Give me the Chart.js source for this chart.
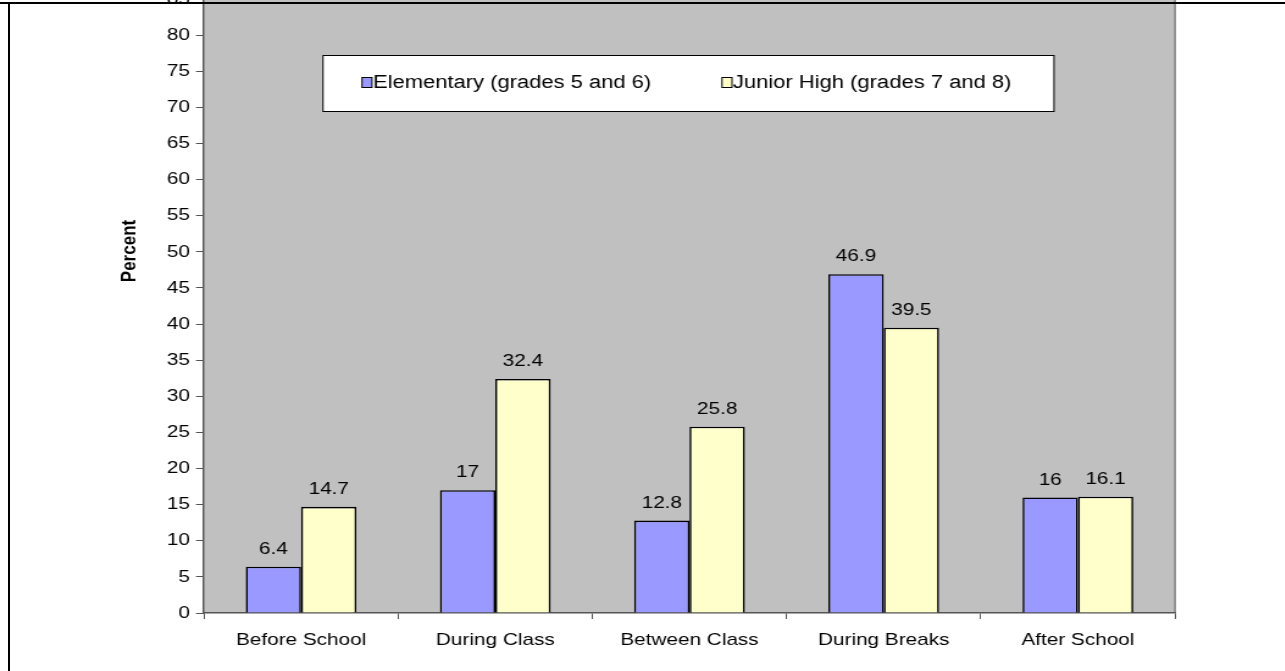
<!DOCTYPE html>
<html lang="en">
<head>
  <meta charset="UTF-8">
  <title>Percent by Time of Day</title>
  <script src="https://cdn.jsdelivr.net/npm/chart.js"></script>
  <style>
    body {
      margin: 0;
      background-color: #ffffff;
      overflow: hidden;
    }
    .frame {
      position: relative;
      width: 1285px;
      height: 671px;
      overflow: hidden;
    }
    /* the chart is drawn narrow and widened, giving the broad lettering */
    #barChart {
      position: absolute;
      left: 0;
      top: -40px;
      width: 1053px;
      height: 711px;
      transform: scaleX(1.22);
      transform-origin: 0 0;
    }
    /* outer chart border, top and left edges */
    .edge-top {
      position: absolute;
      left: 0;
      top: 2px;
      width: 1285px;
      height: 2px;
      background: #000;
    }
    .edge-left {
      position: absolute;
      left: 8px;
      top: 2px;
      width: 2px;
      height: 669px;
      background: #000;
    }
  </style>
</head>
<body>
  <div class="frame">
    <canvas id="barChart" width="1053" height="711"></canvas>
    <div class="edge-top"></div>
    <div class="edge-left"></div>
  </div>

  <script>
    // Chart data
    const categories = ["Before School", "During Class", "Between Class", "During Breaks", "After School"];
    const elementary = [6.4, 17, 12.8, 46.9, 16];
    const juniorHigh = [14.7, 32.4, 25.8, 39.5, 16.1];
    const seriesNames = ["Elementary (grades 5 and 6)", "Junior High (grades 7 and 8)"];
    const yTicks = [0, 5, 10, 15, 20, 25, 30, 35, 40, 45, 50, 55, 60, 65, 70, 75, 80, 85];

    const FONT = "Arial, 'Liberation Sans', sans-serif";
    const SX = 1.22;   // horizontal widening applied by CSS
    const TOP = 40;    // canvas is shifted up by this much

    // grey plot area plus its right edge
    const plotBackground = {
      id: 'plotBackground',
      beforeDraw(chart) {
        const { ctx, chartArea: a } = chart;
        ctx.save();
        ctx.fillStyle = '#c0c0c0';
        ctx.fillRect(a.left, a.top, a.right - a.left, a.bottom - a.top);
        ctx.strokeStyle = '#808080';
        ctx.lineWidth = 1.5;
        ctx.beginPath();
        ctx.moveTo(a.right, a.top);
        ctx.lineTo(a.right, a.bottom);
        ctx.stroke();
        ctx.restore();
      }
    };

    // value labels above each bar
    const valueLabels = {
      id: 'valueLabels',
      afterDatasetsDraw(chart) {
        const { ctx } = chart;
        ctx.save();
        ctx.font = '17px ' + FONT;
        ctx.fillStyle = '#000';
        ctx.textAlign = 'center';
        ctx.textBaseline = 'bottom';
        chart.data.datasets.forEach((ds, i) => {
          chart.getDatasetMeta(i).data.forEach((bar, j) => {
            ctx.fillText(String(ds.data[j]), bar.x, bar.y - 9);
          });
        });
        ctx.restore();
      }
    };

    // boxed legend inside the plot and the rotated axis title
    const boxLegend = {
      id: 'boxLegend',
      afterDraw(chart) {
        const { ctx } = chart;
        ctx.save();
        const bx = 323 / SX, bw = 731 / SX;
        ctx.fillStyle = '#fff';
        ctx.fillRect(bx, 55 + TOP, bw, 56);
        ctx.strokeStyle = '#000';
        ctx.lineWidth = 1;
        ctx.strokeRect(bx, 55.5 + TOP, bw, 56);

        const itemX = [362 / SX, 722 / SX];
        ctx.font = '18px ' + FONT;
        ctx.textBaseline = 'middle';
        chart.data.datasets.forEach((ds, i) => {
          const x = itemX[i];
          const y = 82 + TOP;
          ctx.fillStyle = ds.backgroundColor;
          ctx.fillRect(x, y - 5, 10 / SX, 10);
          ctx.strokeStyle = '#000';
          ctx.strokeRect(x, y - 4.5, 10 / SX, 10);
          ctx.fillStyle = '#000';
          ctx.textAlign = 'left';
          ctx.fillText(ds.label, x + 11 / SX, y + 1);
        });

        ctx.translate(130 / SX, 251 + TOP);
        ctx.rotate(-Math.PI / 2);
        ctx.font = 'bold 17px ' + FONT;
        ctx.textAlign = 'center';
        ctx.textBaseline = 'middle';
        ctx.fillText('Percent', 0, 0);
        ctx.restore();
      }
    };

    const ctx = document.getElementById('barChart').getContext('2d');
    new Chart(ctx, {
      type: 'bar',
      data: {
        labels: categories,
        datasets: [
          {
            label: seriesNames[0],
            data: elementary,
            backgroundColor: '#9999ff',
            borderColor: '#000',
            borderWidth: 1.6,
            categoryPercentage: 0.57,
            barPercentage: 1
          },
          {
            label: seriesNames[1],
            data: juniorHigh,
            backgroundColor: '#ffffcc',
            borderColor: '#000',
            borderWidth: 1.6,
            categoryPercentage: 0.57,
            barPercentage: 1
          }
        ]
      },
      options: {
        responsive: false,
        devicePixelRatio: 1,
        animation: false,
        layout: { padding: { top: 39, right: 1053 - 1175 / SX, bottom: 0, left: 0 } },
        scales: {
          x: {
            afterFit(scale) { scale.height = 58; },
            grid: {
              display: true,
              drawOnChartArea: false,
              drawTicks: true,
              tickLength: 6,
              color: '#555',
              offset: true
            },
            border: { display: true, color: '#555', width: 1.5 },
            ticks: {
              color: '#000',
              font: { family: FONT, size: 17 },
              padding: 11
            }
          },
          y: {
            min: 0,
            max: 85,
            afterFit(scale) { scale.width = 204 / SX; },
            afterBuildTicks(scale) {
              scale.ticks = yTicks.map(v => ({ value: v }));
            },
            grid: {
              drawOnChartArea: false,
              drawTicks: true,
              tickLength: 8 / SX,
              color: '#555'
            },
            border: { display: true, color: '#555', width: 1.5 },
            ticks: {
              color: '#000',
              font: { family: FONT, size: 17 },
              padding: 5
            }
          }
        },
        plugins: {
          legend: { display: false },
          title: { display: false },
          tooltip: { enabled: false }
        }
      },
      plugins: [plotBackground, valueLabels, boxLegend]
    });
  </script>
</body>
</html>
